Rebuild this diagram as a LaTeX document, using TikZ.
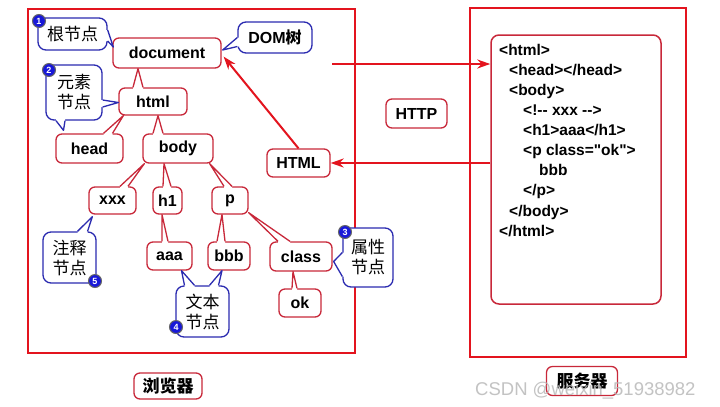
\documentclass[tikz,border=0pt]{standalone}
\usepackage{fontspec}
\setmainfont{Liberation Sans}
\setmonofont{Liberation Sans}
\newfontfamily\cjk{Noto Sans CJK SC}
\usetikzlibrary{calc,arrows.meta}
\definecolor{boxred}{HTML}{E3141E}
\definecolor{nodered}{HTML}{C8283A}
\definecolor{callblue}{HTML}{2B2BB0}
\definecolor{badgeblue}{HTML}{1818D8}
% #1 colour, #2 anchor, #3 offset 1, #4 offset 2, #5 tip, #6 inward shift
\newcommand\ctail[6]{%
  \fill[white] ($(#2)+(#3)+(#6)$) -- ($(#2)+(#3)$) -- #5 -- ($(#2)+(#4)$) -- ($(#2)+(#4)+(#6)$) -- cycle;
  \draw[#1, line width=1.3bp, line join=round] ($(#2)+(#3)$) -- #5 -- ($(#2)+(#4)$);}
\tikzset{
  tnode/.style={draw=nodered, line width=1.3bp, rounded corners=6bp, fill=white, inner sep=0pt,
    font=\bfseries\fontsize{16bp}{18bp}\selectfont},
  callout/.style={draw=callblue, line width=1.3bp, rounded corners=8bp, fill=white, inner sep=0pt,
    align=center, font=\cjk\fontsize{17bp}{20bp}\selectfont},
  bigbox/.style={draw=boxred, line width=2.2bp, inner sep=0pt},
  arr/.style={draw=boxred, line width=2bp, -{Stealth[length=13bp,width=9bp]}},
  codeline/.style={anchor=base west, inner sep=0pt, font=\ttfamily\bfseries\fontsize{15.5bp}{18bp}\selectfont},
  badge/.style={circle, fill=badgeblue, draw=black!60, line width=1bp, inner sep=0pt,
    minimum size=13bp, text=white, font=\bfseries\fontsize{9bp}{9bp}\selectfont},
}
\begin{document}
\begin{tikzpicture}[x=1bp,y=-1bp]
\fill[white] (0,0) rectangle (720,406);
\useasboundingbox (0,0) rectangle (720,406);

% big boxes
\node[bigbox, minimum width=327bp, minimum height=344bp] (browser) at (191.5,181) {};
\node[bigbox, minimum width=216bp, minimum height=349bp] (server) at (578,182.5) {};
\node[draw=nodered, line width=1.5bp, rounded corners=8bp, fill=white, minimum width=170bp, minimum height=269bp] (code) at (576,169.5) {};

% code text
\node[codeline] (c1) at (499,55) {<html>};
\node[codeline] (c2) at (509,75) {<head></head>};
\node[codeline] (c3) at (509,95) {<body>};
\node[codeline] (c4) at (523,115) {<!-- xxx -->};
\node[codeline] (c5) at (523,135) {<h1>aaa</h1>};
\node[codeline] (c6) at (523,155) {<p class="ok">};
\node[codeline] (c7) at (539,175) {bbb};
\node[codeline] (c8) at (523,195) {</p>};
\node[codeline] (c9) at (509,216) {</body>};
\node[codeline] (c10) at (499,236) {</html>};

% tree nodes
\node[tnode, minimum width=108bp, minimum height=30bp] (doc) at (167,53) {document};
\node[tnode, minimum width=68bp, minimum height=27bp] (html) at (153,101.5) {html};
\node[tnode, minimum width=67bp, minimum height=29bp] (head) at (89.5,148.5) {head};
\node[tnode, minimum width=70bp, minimum height=29bp] (body) at (178,148.5) {body};
\node[tnode, minimum width=47bp, minimum height=27bp] (xxx) at (112.5,200.5) {xxx};
\node[tnode, minimum width=29bp, minimum height=27bp] (h1) at (167.5,200.5) {h1};
\node[tnode, minimum width=36bp, minimum height=27bp] (p) at (230,200.5) {p};
\node[tnode, minimum width=45bp, minimum height=28bp] (aaa) at (169.5,256) {aaa};
\node[tnode, minimum width=42bp, minimum height=28bp] (bbb) at (229,256) {bbb};
\node[tnode, minimum width=62bp, minimum height=29bp] (class) at (301,256.5) {class};
\node[tnode, minimum width=42bp, minimum height=28bp] (ok) at (300,303) {ok};
\node[tnode, minimum width=63bp, minimum height=28bp] (HTMLn) at (298.5,163) {HTML};
\node[tnode, minimum width=61bp, minimum height=29bp] (http) at (416.5,113.5) {HTTP};
\node[tnode, minimum width=68bp, minimum height=26bp, font=\cjk\bfseries\fontsize{17bp}{18bp}\selectfont] (blabel) at (168,386) {浏览器};
\node[tnode, minimum width=71bp, minimum height=29bp, font=\cjk\bfseries\fontsize{17bp}{18bp}\selectfont] (slabel) at (582,381) {服务器};

% tree tails (child -> parent)
\ctail{nodered}{html.north}{-20,0}{-10,0}{($(doc.south)+(-29,0)$)}{0,2}
\ctail{nodered}{head.north}{14,0}{23,0}{($(html.south west)+(5,0)$)}{0,2}
\ctail{nodered}{body.north}{-25,0}{-15,0}{($(html.south)+(5,0)$)}{0,2}
\ctail{nodered}{xxx.north}{7.5,0}{15.5,0}{($(body.south west)+(2,0)$)}{0,2}
\ctail{nodered}{h1.north}{-4.5,0}{3.5,0}{($(body.south)+(-14,0)$)}{0,2}
\ctail{nodered}{p.north}{-6,0}{2,0}{($(body.south east)+(-4,0)$)}{0,2}
\ctail{nodered}{aaa.north}{-7.5,0}{-1.5,0}{($(h1.south)+(-5.5,0)$)}{0,2}
\ctail{nodered}{bbb.north}{-12,0}{-4,0}{($(p.south)+(-8,0)$)}{0,2}
\ctail{nodered}{class.north}{-23,0}{-11,0}{($(p.south east)+(0,-2)$)}{0,2}
\ctail{nodered}{ok.north}{-8,0}{-3,0}{($(class.south)+(-8,0)$)}{0,2}

% arrows
\coordinate (a0) at (332,64);
\draw[arr] (a0) -- (code.west |- a0);
\draw[arr] (code.west |- HTMLn) -- (HTMLn.east);
\draw[arr] (HTMLn.north) -- ($(doc.south east)+(2,-12)$);

% callouts
\node[callout, minimum width=69bp, minimum height=32bp] (gen) at (72.5,34) {根节点};
\ctail{callblue}{gen.east}{0,-4}{0,7}{($(doc.west)+(1,-6)$)}{-2,0}
\node[callout, minimum width=74bp, minimum height=31bp, font=\bfseries\fontsize{16bp}{18bp}\selectfont] (dom) at (275,37.5) {DOM{\cjk 树}};
\ctail{callblue}{dom.west}{0,0}{0,9}{($(doc.east)+(1,-3)$)}{2,0}
\node[callout, minimum width=56bp, minimum height=55bp] (yuan) at (74,92.5) {元素\\节点};
\ctail{callblue}{yuan.east}{0,7.5}{0,14.5}{($(html.west)+(0,1)$)}{-2,0}
\ctail{callblue}{yuan.south}{-18,0}{-9,0}{($(head.north)+(-26,-3)$)}{0,-2}
\node[callout, minimum width=53bp, minimum height=51bp] (zhu) at (69.5,257.5) {注释\\节点};
\ctail{callblue}{zhu.north}{8,0}{18,0}{($(xxx.south west)+(4,2)$)}{0,2}
\node[callout, minimum width=53bp, minimum height=51bp] (wen) at (202.5,311.5) {文本\\节点};
\ctail{callblue}{wen.north}{-18,0}{-8,0}{($(aaa.south)+(12,0)$)}{0,2}
\ctail{callblue}{wen.north}{7,0}{16,0}{($(bbb.south)+(-7,0)$)}{0,2}
\node[callout, minimum width=50bp, minimum height=59bp] (shu) at (368,257.5) {属性\\节点};
\ctail{callblue}{shu.west}{0,-5}{0,19}{($(class.east)+(1,5)$)}{2,0}

% badges
\node[badge] (b1) at (39,21) {1};
\node[badge] (b2) at (49,70) {2};
\node[badge] (b3) at (345,232) {3};
\node[badge] (b4) at (176,327) {4};
\node[badge] (b5) at (95,281) {5};

% watermark
\node[anchor=base west, inner sep=0pt, text=gray!55, opacity=0.85, font=\fontsize{18.5bp}{19bp}\selectfont] (wm) at (475,395) {CSDN @weixin\_51938982};
\end{tikzpicture}
\end{document}
